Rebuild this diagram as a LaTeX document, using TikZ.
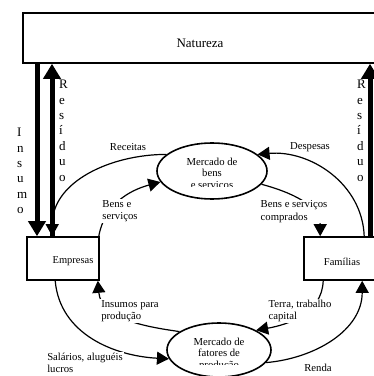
\documentclass[tikz,border=0pt]{standalone}
\usepackage{fontspec}
\setmainfont{Liberation Serif}
\usetikzlibrary{arrows.meta, shapes.geometric}

\begin{document}
\begin{tikzpicture}[x=1pt, y=1pt,
    box/.style={draw, line width=1.6pt, inner sep=0pt},
    oval/.style={draw, ellipse, line width=1.6pt, inner sep=0pt},
    ovaltext/.style={align=center, inner sep=0pt, font=\fontsize{10.7}{11.5}\selectfont},
    fluxo/.style={line width=1.2pt, -{Triangle[length=12pt,width=13pt]}},
    grosso/.style={line width=5pt, -{Triangle[length=15pt,width=17pt]}},
    rotulo/.style={fill=white, inner sep=1pt, align=left, font=\fontsize{10.7}{12.5}\selectfont},
    vertical/.style={align=left, inner sep=0pt, anchor=north west, font=\fontsize{13}{15.4}\selectfont}]
  \clip (0,0) rectangle (374,376);

  % caixas e mercados
  \node[box, minimum width=354pt, minimum height=50pt, font=\fontsize{13}{15}\selectfont]
    (nat) at (200,338) {\raisebox{-5pt}[\height][\depth]{Natureza}};
  \node[box, minimum width=72pt, minimum height=43pt, font=\fontsize{10.5}{12}\selectfont]
    (emp) at (63,117.5) {\hspace*{20pt}\raisebox{-3pt}[\height][\depth]{Empresas}};
  \node[box, minimum width=76pt, minimum height=43pt, font=\fontsize{10.5}{12}\selectfont]
    (fam) at (342,117.5) {\raisebox{-3pt}[\height][\depth]{Famílias}};
  \node[oval, minimum width=110pt, minimum height=56pt] (bens) at (212,205) {};
  \node[oval, minimum width=104pt, minimum height=54pt] (fat) at (219,26) {};
  \begin{scope}
    \clip (150,189.5) rectangle (280,240);
    \node[ovaltext] (bens-txt) at ([yshift=-3pt]bens.center) {Mercado de\\bens\\e serviços};
  \end{scope}
  \begin{scope}
    \clip (160,11) rectangle (280,60);
    \node[ovaltext] (fat-txt) at ([yshift=-4pt]fat.center) {Mercado de\\fatores de\\produção};
  \end{scope}

  % insumo e residuos
  \coordinate (ins) at (37,0);
  \coordinate (resE) at (52,0);
  \coordinate (resD) at (370,0);
  \draw[grosso] (ins |- nat.south) -- (ins |- emp.north);
  \draw[grosso] (resE |- emp.north) -- (resE |- nat.south);
  \draw[grosso] (resD |- fam.north) -- (resD |- nat.south);
  \node[vertical] (insumo) at (17,248) {I\\n\\s\\u\\m\\o};
  \node[vertical] (residuoE) at (59,296) {R\\e\\s\\í\\d\\u\\o};
  \node[vertical] (residuoD) at (357,296) {R\\e\\s\\í\\d\\u\\o};

  % fluxos
  \draw[fluxo] (bens.160) to[out=180,in=90] ([xshift=26pt]emp.north west);
  \node[rotulo] (receitas) at (128,229) {Receitas};
  \draw[fluxo] ([xshift=-1pt]emp.north east) to[out=80,in=195] (bens.192);
  \node[rotulo] (bens-e) at (120,165) {Bens e\\serviços};
  \draw[fluxo] ([xshift=61pt]fam.north west) to[out=92,in=5] (bens.20);
  \node[rotulo] (despesas) at (310,229) {Despesas};
  \draw[fluxo] (bens.-15) to[out=-15,in=90] ([xshift=17pt]fam.north west);
  \node[rotulo] (comprados) at (294,164.5) {Bens e serviços\\comprados};
  \draw[fluxo] (fat.155) to[out=172,in=-85] ([xshift=-2pt]emp.south east);
  \node[rotulo] (insumos) at (130,65) {Insumos para\\produção};
  \draw[fluxo] ([xshift=29pt]emp.south west) to[out=-85,in=177] (fat.190);
  \node[rotulo, font=\fontsize{10.7}{11.5}\selectfont] (salarios) at (85,13) {Salários, aluguéis\\lucros};
  \draw[fluxo] ([xshift=20pt]fam.south west) to[out=-92,in=10] (fat.28);
  \node[rotulo] (terra) at (300,65) {Terra, trabalho\\capital};
  \draw[fluxo] (fat.-15) to[out=5,in=-90] ([xshift=59pt]fam.south west);
  \node[rotulo] (renda) at (318,8) {Renda};
\end{tikzpicture}
\end{document}
